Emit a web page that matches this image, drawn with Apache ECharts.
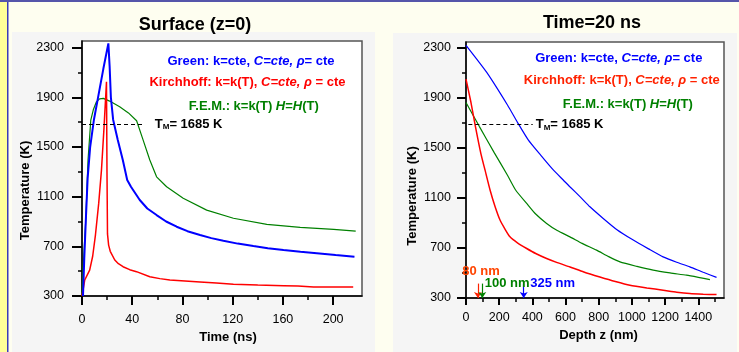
<!DOCTYPE html>
<html>
<head>
<meta charset="utf-8">
<script src="https://cdn.jsdelivr.net/npm/echarts@6/dist/echarts.min.js"></script>
<style>
  html, body { margin: 0; padding: 0; background: #fefef0; }
  #chart { width: 739px; height: 352px; }
</style>
</head>
<body>
<div id="chart"></div>
<script>
// Surface (z=0): temperature vs time (ns)
const surfGreenTime = [0.8, 1.8, 3, 4.5, 6.5, 9.5, 12.8, 17, 21, 22, 23, 24.8, 28.5, 32.5, 36, 39, 46, 52, 59.4, 67, 75.4, 84, 94, 103, 112.6, 124, 136.5, 148, 160.5, 174, 187, 202, 217];
const surfGreenTemp = [300, 600, 900, 1250, 1500, 1720, 1900, 2130, 2335, 2150, 1900, 1720, 1556, 1395, 1235, 1180, 1073, 1005, 952, 900, 858, 822, 791, 766, 745, 722, 702, 685, 670, 656, 644, 630, 617];

const surfKirchTime = [0, 2.2, 6.1, 8.5, 10.7, 13.3, 15.5, 17.5, 19.5, 19.9, 20.3, 21.2, 22.5, 26.1, 29, 32.7, 38, 43.4, 54, 62, 70, 82, 94, 107, 120.6, 140, 160.5, 172, 184.4, 200, 216];
const surfKirchTemp = [300, 429, 509, 620, 791, 1046, 1314, 1650, 2025, 1300, 800, 710, 660, 590, 560, 536, 512, 496, 455, 440, 429, 421, 413, 404, 394, 388, 383, 380, 372, 372, 372];

const surfFemTime = [0, 0.8, 3, 4.8, 7, 9, 11.5, 14, 17, 22, 30, 37, 43.5, 48.7, 54, 59.4, 67.4, 80.6, 99.3, 120.6, 147.2, 173.8, 200.4, 218];
const surfFemTemp = [300, 509, 912, 1395, 1717, 1800, 1864, 1888, 1892, 1870, 1824, 1775, 1712, 1556, 1395, 1260, 1180, 1087, 992, 926, 877, 853, 837, 823];

// Time = 20 ns: temperature vs depth (nm)
const depthGreenZ = [0, 125, 250, 311, 375, 450, 526, 586, 626, 690, 747, 827, 910, 1008, 1100, 1188, 1270, 1349, 1430, 1510];
const depthGreenTemp = [2316, 2100, 1840, 1700, 1562, 1440, 1322, 1242, 1188, 1105, 1028, 935, 845, 762, 692, 628, 585, 548, 505, 465];

const depthKirchZ = [0, 30, 56, 90, 114.5, 145, 175, 205, 235, 265, 310, 365.7, 420, 486, 550, 626.5, 710, 807, 900, 988, 1090, 1188.5, 1270, 1349, 1430, 1510];
const depthKirchTemp = [2047, 1860, 1673, 1450, 1322, 1162, 1030, 922, 850, 788, 740, 695, 655, 615, 582, 548, 508, 468, 432, 402, 380, 362, 346, 335, 330, 327];

const depthFemZ = [0, 80, 170, 250, 300, 365.7, 420, 486, 550, 626.5, 700, 787, 860, 928, 1030, 1128, 1230, 1329, 1400, 1470];
const depthFemTemp = [1860, 1670, 1460, 1280, 1160, 1055, 970, 895, 838, 788, 736, 682, 630, 588, 552, 522, 500, 482, 465, 447];

// ticks
const tempTicks = [300, 700, 1100, 1500, 1900, 2300];
const tempMinor = [500, 900, 1300, 1700, 2100];
const timeTicks = [0, 40, 80, 120, 160, 200];
const timeMinor = [20, 60, 100, 140, 180];
const depthTicks = [0, 200, 400, 600, 800, 1000, 1200, 1400];
const depthMinor = [100, 300, 500, 700, 900, 1100, 1300, 1500];

const meltTemp = 1685;
const depthMarks = [72, 98, 348];
const depthMarkLabels = ['80 nm', '100 nm', '325 nm'];
const arrowTop = 415;

const zip = (xs, ys) => xs.map((x, i) => [x, ys[i]]);

const FONT = '"Liberation Sans", Arial, sans-serif';
const BLUE = '#0000ff', RED = '#ff0000', GREEN = '#008000';

const chart = echarts.init(document.getElementById('chart'));

function mainAxis(grid, min, max, ticks, tickLen, margin, extra) {
  return Object.assign({
    type: 'value', gridIndex: grid, min: min, max: max,
    axisLine: { show: true, onZero: false, lineStyle: { color: '#000', width: 1.5 } },
    axisTick: { show: true, customValues: ticks, length: tickLen, lineStyle: { color: '#000', width: 2 } },
    axisLabel: { customValues: ticks, margin: margin, color: '#000', fontSize: 12.5, fontFamily: FONT,
      formatter: v => String(v) },
    splitLine: { show: false }
  }, extra);
}
function minorAxis(grid, min, max, ticks, pos) {
  return {
    type: 'value', gridIndex: grid, min: min, max: max, position: pos,
    axisLine: { show: false },
    axisTick: { show: true, customValues: ticks, length: 4, lineStyle: { color: '#000', width: 1.5 } },
    axisLabel: { show: false },
    splitLine: { show: false }
  };
}
const nameStyle = { color: '#000', fontWeight: 'bold', fontSize: 13, fontFamily: FONT };

const tmLabel = {
  show: true, position: 'end', distance: 10,
  formatter: '{a|T}{b|M}{a|= 1685 K}',
  rich: {
    a: { fontWeight: 'bold', fontSize: 13, color: '#000', fontFamily: FONT },
    b: { fontWeight: 'bold', fontSize: 8, color: '#000', fontFamily: FONT, verticalAlign: 'bottom', padding: [6, 0, 0, 0] }
  }
};
const dashed = { color: '#000', type: [4, 3], width: 1.2 };

function legendText(x, y, color, parts) {
  return {
    type: 'text', x: x, y: y, z: 10,
    style: {
      text: parts, fill: color,
      textAlign: 'center', align: 'center', textVerticalAlign: 'middle', verticalAlign: 'middle',
      rich: {
        n: { fontWeight: 'bold', fontSize: 13, fontFamily: FONT, color: color },
        i: { fontWeight: 'bold', fontStyle: 'italic', fontSize: 13, fontFamily: FONT, color: color }
      }
    }
  };
}
function titleText(x, y, text) {
  return {
    type: 'text', x: x, y: y, z: 10,
    style: { text: text, fill: '#000', font: 'bold 18px ' + FONT,
      textAlign: 'center', align: 'center', textVerticalAlign: 'middle', verticalAlign: 'middle' }
  };
}

chart.setOption({
  backgroundColor: '#fefef0',
  animation: false,
  graphic: [
    { type: 'rect', z: -10, shape: { x: 0, y: 0, width: 7, height: 352 }, style: { fill: '#ffff99' } },
    { type: 'rect', z: -10, shape: { x: 7, y: 0, width: 1.5, height: 352 }, style: { fill: '#3b3bb8' } },
    { type: 'rect', z: -10, shape: { x: 0, y: 0, width: 739, height: 2 }, style: { fill: '#5555aa' } },
    { type: 'rect', z: -10, shape: { x: 12, y: 32, width: 363, height: 320 }, style: { fill: '#f5f5f5' } },
    { type: 'rect', z: -10, shape: { x: 393, y: 33, width: 344, height: 319 }, style: { fill: '#f5f5f5' } },
    titleText(195, 25, 'Surface (z=0)'),
    titleText(592, 23, 'Time=20 ns'),
    legendText(251, 61, BLUE, '{n|Green: k=cte, }{i|C=cte, ρ}{n|= cte}'),
    legendText(247.5, 82.7, RED, '{n|Kirchhoff: k=k(T), }{i|C=cte, ρ}{n| = cte}'),
    legendText(253.8, 106.7, GREEN, '{n|F.E.M.: k=k(T) }{i|H}{n|=}{i|H}{n|(T)}'),
    legendText(618.8, 58.7, BLUE, '{n|Green: k=cte, }{i|C=cte, ρ}{n|= cte}'),
    legendText(621.8, 80, '#ff2200', '{n|Kirchhoff: k=k(T), }{i|C=cte, ρ}{n| = cte}'),
    legendText(627.8, 104.3, GREEN, '{n|F.E.M.: k=k(T) }{i|H}{n|=}{i|H}{n|(T)}')
  ],
  grid: [
    { left: 82, top: 41, width: 280, height: 255, show: true, backgroundColor: '#fff', borderColor: '#555', borderWidth: 1.5 },
    { left: 466, top: 42, width: 258, height: 256, show: true, backgroundColor: '#fff', borderColor: '#555', borderWidth: 1.5 }
  ],
  xAxis: [
    mainAxis(0, 0, 223, timeTicks, 9, 17, {
      position: 'bottom', name: 'Time (ns)', nameLocation: 'middle', nameGap: 31,
      nameTextStyle: Object.assign({ padding: [0, 0, 0, 12] }, nameStyle)
    }),
    minorAxis(0, 0, 223, timeMinor, 'bottom'),
    mainAxis(1, 0, 1555, depthTicks, 7, 13, {
      position: 'bottom', name: 'Depth z (nm)', nameLocation: 'middle', nameGap: 31,
      nameTextStyle: Object.assign({ padding: [0, 0, 0, 7] }, nameStyle)
    }),
    minorAxis(1, 0, 1555, depthMinor, 'bottom')
  ],
  yAxis: [
    mainAxis(0, 300, 2354, tempTicks, 10, 18, {
      position: 'left', name: 'Temperature (K)', nameLocation: 'middle', nameGap: 50,
      nameTextStyle: Object.assign({ padding: [0, 44, 0, 0] }, nameStyle)
    }),
    minorAxis(0, 300, 2354, tempMinor, 'left'),
    mainAxis(1, 300, 2343, tempTicks, 9, 15, {
      position: 'left', name: 'Temperature (K)', nameLocation: 'middle', nameGap: 47,
      nameTextStyle: Object.assign({ padding: [0, 52, 0, 0] }, nameStyle)
    }),
    minorAxis(1, 300, 2343, tempMinor, 'left')
  ],
  series: [
    {
      type: 'line', name: 'FEM surface', xAxisIndex: 0, yAxisIndex: 0, showSymbol: false,
      data: zip(surfFemTime, surfFemTemp), lineStyle: { color: GREEN, width: 1.2 }, itemStyle: { color: GREEN }
    },
    {
      type: 'line', name: 'Kirchhoff surface', xAxisIndex: 0, yAxisIndex: 0, showSymbol: false,
      data: zip(surfKirchTime, surfKirchTemp), lineStyle: { color: RED, width: 1.5 }, itemStyle: { color: RED },
      markLine: {
        silent: true, symbol: 'none', lineStyle: dashed, label: tmLabel,
        data: [[{ coord: [0, meltTemp] }, { coord: [50, meltTemp] }]]
      }
    },
    {
      type: 'line', name: 'Green surface', xAxisIndex: 0, yAxisIndex: 0, showSymbol: false,
      data: zip(surfGreenTime, surfGreenTemp), lineStyle: { color: BLUE, width: 2 }, itemStyle: { color: BLUE }
    },
    {
      type: 'line', name: 'FEM depth', xAxisIndex: 2, yAxisIndex: 2, showSymbol: false, smooth: 0.2,
      data: zip(depthFemZ, depthFemTemp), lineStyle: { color: GREEN, width: 1.2 }, itemStyle: { color: GREEN },
      markPoint: {
        silent: true, symbol: 'circle', symbolSize: 1, itemStyle: { color: 'transparent' },
        data: depthMarks.map((z, i) => ({
          coord: [z, arrowTop], value: depthMarkLabels[i],
          label: {
            show: true, formatter: depthMarkLabels[i], fontWeight: 'bold', fontSize: 13, fontFamily: FONT,
            color: ['#ff4400', GREEN, BLUE][i],
            position: i === 0 ? 'top' : 'right', distance: [5, 2, 6][i], offset: i === 0 ? [3, 0] : [0, 0]
          }
        }))
      }
    },
    {
      type: 'line', name: 'Kirchhoff depth', xAxisIndex: 2, yAxisIndex: 2, showSymbol: false, smooth: 0.2,
      data: zip(depthKirchZ, depthKirchTemp), lineStyle: { color: RED, width: 1.5 }, itemStyle: { color: RED },
      markLine: {
        silent: true, symbol: 'none', lineStyle: dashed,
        label: Object.assign({}, tmLabel, { distance: 3 }),
        data: [[{ coord: [14, meltTemp] }, { coord: [402, meltTemp] }]]
      }
    },
    {
      type: 'line', name: 'Green depth', xAxisIndex: 2, yAxisIndex: 2, showSymbol: false, smooth: 0.2,
      data: zip(depthGreenZ, depthGreenTemp), lineStyle: { color: BLUE, width: 1.2 }, itemStyle: { color: BLUE },
      markLine: {
        silent: true, symbol: ['none', 'arrow'], symbolSize: 6, label: { show: false },
        data: depthMarks.map((z, i) => {
          const c = ['#ff2200', GREEN, BLUE][i];
          return [
            { coord: [z, arrowTop], lineStyle: { color: c, width: 1.2, type: 'solid' }, itemStyle: { color: c } },
            { coord: [z, 300] }
          ];
        })
      }
    }
  ]
});
</script>
</body>
</html>
